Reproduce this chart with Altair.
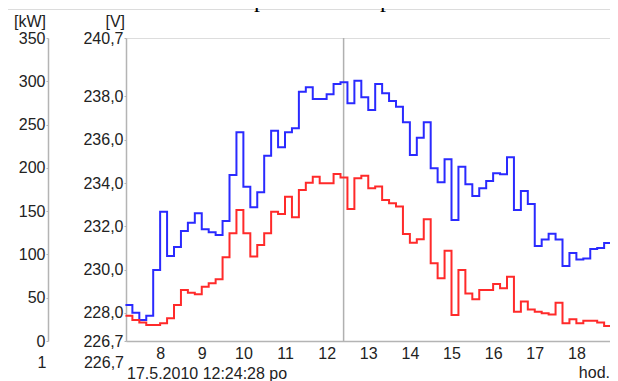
import altair as alt
import pandas as pd

# 10-minute readings
times = ["7:10", "7:20", "7:30", "7:40", "7:50",
         "8:00", "8:10", "8:20", "8:30", "8:40", "8:50",
         "9:00", "9:10", "9:20", "9:30", "9:40", "9:50",
         "10:00", "10:10", "10:20", "10:30", "10:40", "10:50",
         "11:00", "11:10", "11:20", "11:30", "11:40", "11:50",
         "12:00", "12:10", "12:20", "12:30", "12:40", "12:50",
         "13:00", "13:10", "13:20", "13:30", "13:40", "13:50",
         "14:00", "14:10", "14:20", "14:30", "14:40", "14:50",
         "15:00", "15:10", "15:20", "15:30", "15:40", "15:50",
         "16:00", "16:10", "16:20", "16:30", "16:40", "16:50",
         "17:00", "17:10", "17:20", "17:30", "17:40", "17:50",
         "18:00", "18:10", "18:20", "18:30", "18:40", "18:50",
         "19:00"]

power_kw = [41.6, 32.7, 24.3, 29.2, 82.0,
            149.4, 98.2, 108.6, 127.1, 136.7, 147.5,
            129.0, 125.6, 122.4, 138.6, 191.8, 241.1,
            178.2, 154.4, 171.8, 214.0, 242.9, 223.8,
            241.1, 245.7, 288.0, 293.1, 279.5, 279.5,
            285.0, 296.9, 298.8, 274.6, 300.7, 281.5,
            266.8, 296.9, 286.1, 277.2, 270.6, 252.6,
            214.9, 234.8, 252.6, 199.5, 183.3, 209.9,
            139.8, 201.3, 181.0, 167.5, 176.4, 184.8,
            193.7, 192.6, 212.2, 151.3, 173.3, 158.3,
            109.7, 117.2, 123.9, 117.2, 86.6, 101.7,
            94.1, 95.3, 106.3, 107.4, 113.2, 112.0,
            112.0]

voltage_v = [227.87, 227.67, 227.55, 227.44, 227.44,
             227.52, 227.75, 228.36, 229.06, 228.93, 228.86,
             229.21, 229.37, 229.55, 230.57, 231.68, 232.75,
             231.68, 230.60, 231.14, 231.68, 232.67, 232.57,
             233.37, 232.42, 233.68, 234.01, 234.29, 233.99,
             233.99, 234.42, 234.25, 232.80, 234.22, 234.34,
             233.76, 233.84, 233.21, 233.06, 232.91, 231.64,
             231.24, 231.40, 232.32, 230.29, 229.60, 230.87,
             227.90, 229.98, 228.90, 228.63, 229.06, 229.06,
             229.33, 229.14, 229.67, 228.05, 228.52, 228.16,
             228.05, 227.98, 227.93, 228.47, 227.52, 227.70,
             227.52, 227.64, 227.64, 227.55, 227.39, 227.33,
             227.33]

hour_ticks = [8, 9, 10, 11, 12, 13, 14, 15, 16, 17, 18, 19]
kw_ticks = [0, 50, 100, 150, 200, 250, 300, 350]
v_ticks = [226.7, 228.0, 230.0, 232.0, 234.0, 236.0, 238.0, 240.7]
x_domain = [7.18, 19.0]
kw_domain = [0, 350]
v_domain = [226.7, 240.7]
cursor_time = "12:24:28"
date_text = "17.5.2010 12:24:28 po"
title_text = "inverter disconnections in photovoltaic plants."


def to_hours(s):
    parts = [int(p) for p in s.split(":")]
    while len(parts) < 3:
        parts.append(0)
    return parts[0] + parts[1] / 60 + parts[2] / 3600


df = pd.DataFrame({"t": [to_hours(s) for s in times], "kw": power_kw, "v": voltage_v})
cursor_df = pd.DataFrame({"t": [to_hours(cursor_time)]})

FONT = "Liberation Sans"
AXIS_GRAY = "#b4b4b4"
LABEL = "#222222"
PLOT_W = 492   # scale range: the plot runs to the window edge
VIEW_W = 484   # view box kept inside the page width

x_scale = alt.Scale(domain=x_domain, nice=False, zero=False, range=[0, PLOT_W])
x_axis = alt.Axis(
    values=hour_ticks, title=None, grid=False, format="d", domainColor=AXIS_GRAY,
    domainWidth=1.5, ticks=False, labelPadding=4, labelFont=FONT, labelFontSize=16,
    labelColor=LABEL, labelFlush=False, labelOverlap=False, labelBound=False)
x_enc = alt.X("t:Q", scale=x_scale, axis=x_axis)

y_axis_common = dict(
    orient="left", title=None, grid=False, domainColor=AXIS_GRAY, domainWidth=1.5,
    tickColor=AXIS_GRAY, tickSize=2, labelPadding=1, labelFont=FONT, labelFontSize=16,
    labelColor=LABEL, labelBaseline="middle",
)

cursor = alt.Chart(cursor_df).mark_rule(color="#b0b0b0", strokeWidth=1.5).encode(x=x_enc)

blue = alt.Chart(df).mark_line(interpolate="step-after", color="#2a2aff", strokeWidth=2).encode(
    x=x_enc,
    y=alt.Y("kw:Q", scale=alt.Scale(domain=kw_domain, nice=False, zero=False),
            axis=alt.Axis(values=kw_ticks, offset=78, **y_axis_common)),
)

red = alt.Chart(df).mark_line(interpolate="step-after", color="#ff2a2a", strokeWidth=2).encode(
    x=x_enc,
    y=alt.Y("v:Q", scale=alt.Scale(domain=v_domain, nice=False, zero=False),
            axis=alt.Axis(values=v_ticks,
                          labelExpr="replace(format(datum.value, '.1f'), '.', ',')",
                          **y_axis_common)),
)


def label(text, x, y, align="left", size=16, font=FONT, color=LABEL, baseline="middle"):
    return alt.Chart(pd.DataFrame({"s": [text]})).mark_text(
        align=align, baseline=baseline, fontSize=size, font=font, color=color
    ).encode(x=alt.value(x), y=alt.value(y), text="s:N")


top_rule = alt.Chart(pd.DataFrame({"a": [0]})).mark_rule(color="#dcdcdc", strokeWidth=1).encode(
    x=alt.value(-118), x2=alt.value(PLOT_W), y=alt.value(-28.5)
)

texts = [
    label(title_text, -126, -31, align="left", size=24, font="Liberation Serif", color="#000000",
          baseline="alphabetic"),
    label("[kW]", -80, -16, align="right"),
    label("[V]", -1, -16, align="right"),
    label("1", -84, 325, align="center"),
    label("226,7", -2, 325, align="right"),
    label(date_text, 1, 335.5, align="left"),
    label("hod.", 484, 334.5, align="right"),
]

chart = alt.layer(cursor, blue, red, top_rule, *texts).resolve_scale(y="independent").properties(
    width=VIEW_W, height=303,
    padding={"left": 118, "top": 30, "right": 0, "bottom": 40},
    autosize=alt.AutoSizeParams(type="none"),
).configure_view(stroke=None).configure(background="white")

chart.save("out.html", embed_options={"renderer": "svg", "actions": False})
